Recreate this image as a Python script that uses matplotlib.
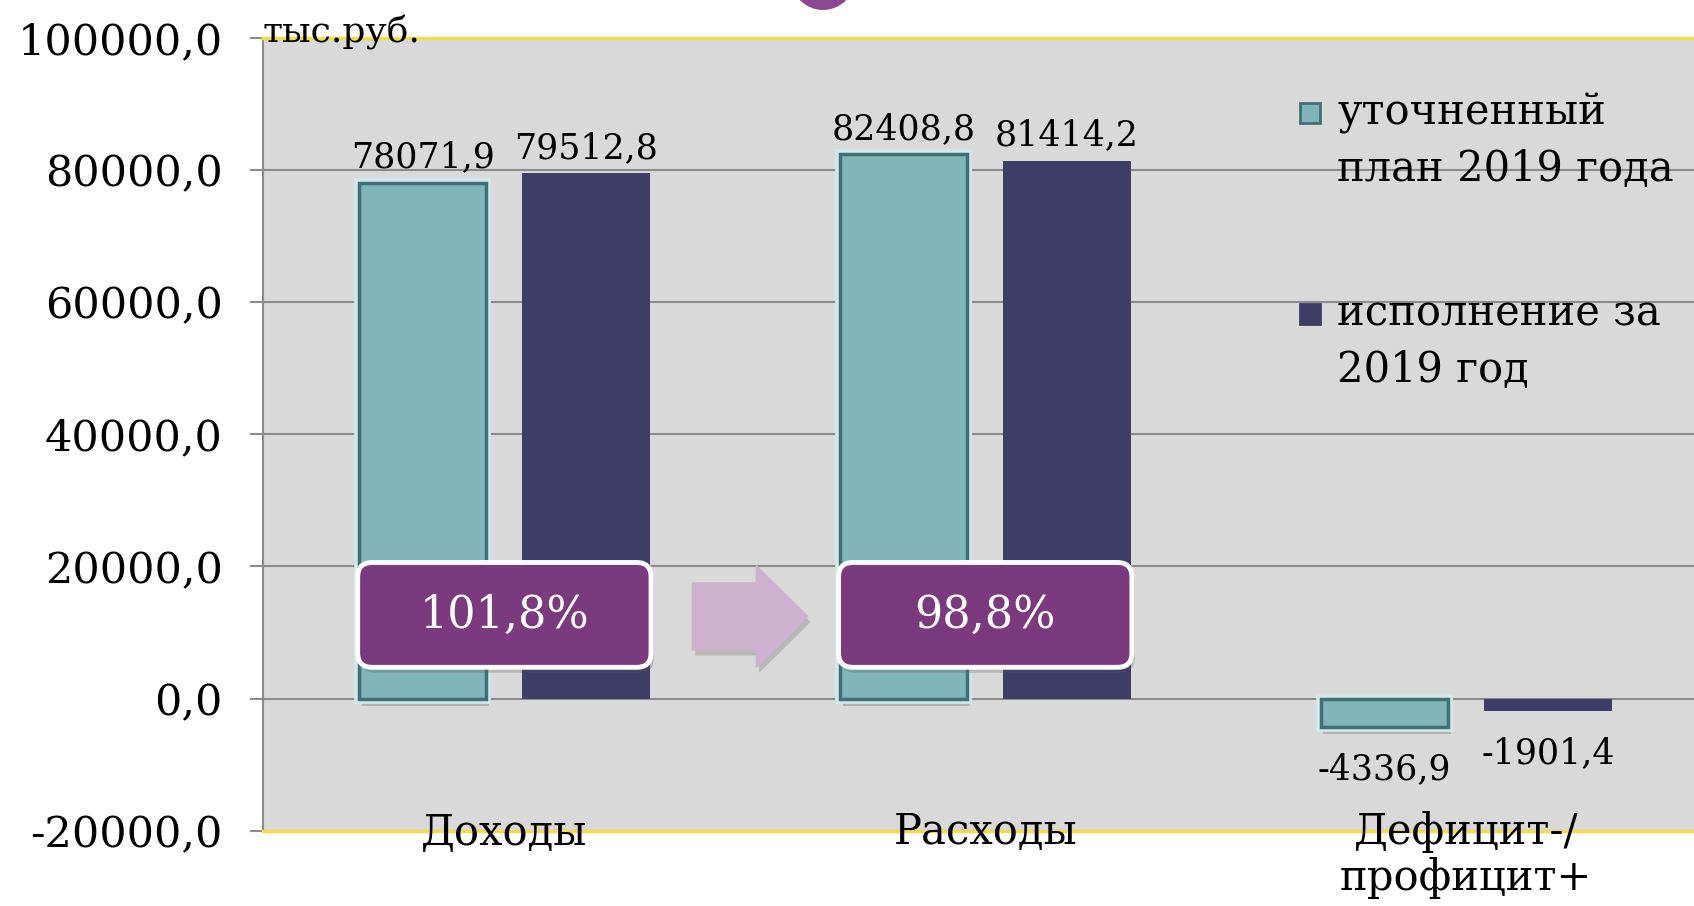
import numpy as np
import matplotlib
matplotlib.use("Agg")
import matplotlib.pyplot as plt
from matplotlib.patches import FancyBboxPatch, FancyArrow, Rectangle, Ellipse
from matplotlib.ticker import FuncFormatter
import matplotlib.patheffects as pe

# данные
categories = ["Доходы", "Расходы", "Дефицит-/\nпрофицит+"]
plan_2019 = [78071.9, 82408.8, -4336.9]
fact_2019 = [79512.8, 81414.2, -1901.4]
series_names = ["уточненный\nплан 2019 года", "исполнение за\n2019 год"]
ratio_labels = ["101,8%", "98,8%"]
y_ticks = [-20000, 0, 20000, 40000, 60000, 80000, 100000]

TEAL = "#7FB4B9"
TEAL_EDGE = "#426F73"
NAVY = "#3D3D66"
PURPLE = "#7A3A7D"
ARROW = "#CDB1CF"
BG = "#D9D9D9"
GRID = "#8C8C8C"
YELLOW = "#F3DC4C"

plt.rcParams["font.family"] = ["DejaVu Serif"]

W, H = 1694, 906
fig = plt.figure(figsize=(W / 100, H / 100), dpi=100)
ax = fig.add_axes([262.5 / W, 1 - 830.8 / H, 1 - 262.5 / W, (830.8 - 37.8) / H])
ax.set_facecolor(BG)

x = np.arange(len(categories))
bw = 0.265
off = 0.17

shadow = [pe.SimplePatchShadow(offset=(2, -4), shadow_rgbFace="#555555", alpha=0.25), pe.Normal()]
glow = [pe.SimplePatchShadow(offset=(2, -5), shadow_rgbFace="#555555", alpha=0.3),
        pe.Stroke(linewidth=7, foreground="#D2E8EA"), pe.Normal()]

b1 = ax.bar(x - off, plan_2019, bw, color=TEAL, edgecolor=TEAL_EDGE, linewidth=2.5, zorder=3)
for p in b1:
    p.set_path_effects(glow)
b2 = ax.bar(x + off, fact_2019, bw, color=NAVY, zorder=3)

# подписи значений
def fmt(v):
    return f"{v:.1f}".replace(".", ",")

for bars, vals in [(b1, plan_2019), (b2, fact_2019)]:
    for p, v in zip(bars, vals):
        cx = p.get_x() + p.get_width() / 2
        if v >= 0:
            ax.annotate(fmt(v), (cx, v), xytext=(0, 6), textcoords="offset points",
                        ha="center", va="bottom", fontsize=25, zorder=6)
        else:
            ax.annotate(fmt(v), (cx, v), xytext=(0, -18), textcoords="offset points",
                        ha="center", va="top", fontsize=25, zorder=6)

ax.set_xlim(-0.503, 2.474)
ax.set_ylim(-20000, 100000)
ax.set_yticks(y_ticks)
ax.yaxis.set_major_formatter(FuncFormatter(lambda v, _: fmt(v)))
ax.tick_params(axis="y", labelsize=31, length=9.5, width=1.5, color=GRID, pad=19)
ax.set_xticks(x, categories)
ax.tick_params(axis="x", labelsize=30, length=0, pad=-14)
for t in ax.get_xticklabels():
    t.set_linespacing(1.1)

ax.set_axisbelow(True)
ax.yaxis.grid(True, color=GRID, linewidth=1.5)
ax.xaxis.set_zorder(5)
ax.spines["left"].set_color(GRID)
ax.spines["left"].set_linewidth(1.5)
ax.spines["right"].set_visible(False)
for s in ["top", "bottom"]:
    ax.spines[s].set_color(YELLOW)
    ax.spines[s].set_linewidth(2.5)
    ax.spines[s].set_zorder(4)

# соотношения в рамках
fig.canvas.draw()
bb = ax.get_window_extent()
aspect = (120000 / bb.height) / (2.977 / bb.width)
box_w, box_h, box_cy = 0.61, 15860, 12670
for i, lab in enumerate(ratio_labels):
    box = FancyBboxPatch((x[i] - box_w / 2, box_cy - box_h / 2), box_w, box_h,
                         boxstyle="round,pad=0,rounding_size=0.03", mutation_aspect=aspect,
                         facecolor=PURPLE, edgecolor="white", linewidth=3.5, zorder=5)
    box.set_path_effects(shadow)
    ax.add_patch(box)
    ax.text(x[i], box_cy, lab, ha="center", va="center", color="white", fontsize=32, zorder=6)

arr = FancyArrow(0.391, 12430, 0.24, 0, width=10140, head_width=15370, head_length=0.107,
                 length_includes_head=True, color=ARROW, zorder=5)
arr.set_path_effects(shadow)
ax.add_patch(arr)

# единицы
fig.text(262 / W, 1 - 32 / H, "тыс.руб.", ha="left", va="center", fontsize=26)

# легенда
leg_x, leg_tx = 1300, 1337
for (my, ty), name, col, ec in [((113, 141), series_names[0], TEAL, TEAL_EDGE),
                                ((314, 342), series_names[1], NAVY, NAVY)]:
    fig.patches.append(Rectangle(((leg_x) / W, 1 - (my + 10) / H), 20 / W, 20 / H,
                                 transform=fig.transFigure, facecolor=col, edgecolor=ec,
                                 linewidth=2))
    fig.text(leg_tx / W, 1 - ty / H, name, ha="left", va="center", fontsize=30,
             linespacing=1.45)

# декоративный круг сверху
fig.patches.append(Ellipse((823 / W, 1 + 22 / H), 64 / W, 64 / H, transform=fig.transFigure,
                           facecolor="#8A4A8F", edgecolor="none"))

fig.savefig("out.png", dpi=100)
